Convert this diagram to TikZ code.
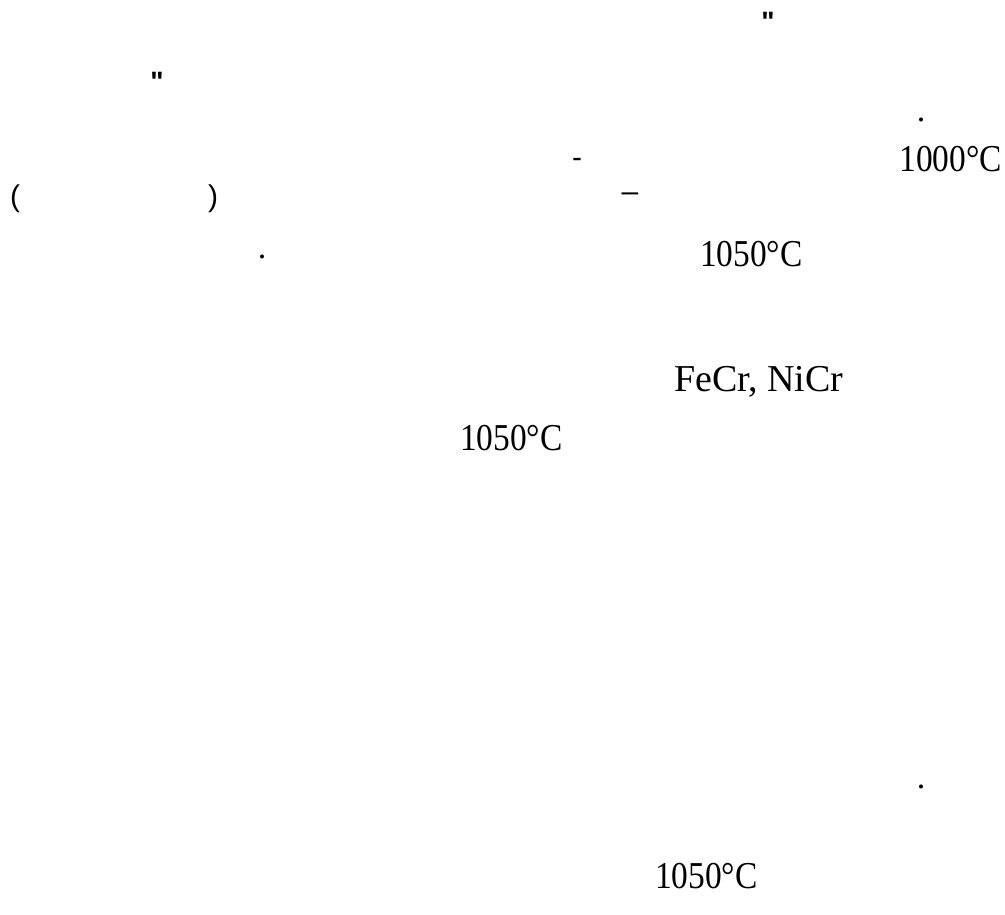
\documentclass[tikz,border=0pt]{standalone}
\usepackage{fontspec}
\setmainfont{Liberation Serif}
\newfontfamily\arialf{Liberation Sans}
\newcommand{\narrow}[1]{\scalebox{0.88}[1]{#1}}
\tikzset{
  txt/.style={inner sep=0pt, outer sep=0pt, font=\fontsize{38}{44}\selectfont},
  dotmark/.style={inner sep=0pt, outer sep=0pt, font=\fontsize{34}{40}\selectfont},
  punct/.style={inner sep=0pt, outer sep=0pt, font=\arialf\fontsize{30}{36}\selectfont},
  quotemark/.style={inner sep=0pt, outer sep=0pt, font=\arialf\bfseries\fontsize{28}{34}\selectfont},
}
\begin{document}
\begin{tikzpicture}[x=1pt,y=-1pt]
\useasboundingbox[fill=white] (0,0) rectangle (1005,914);
\node[quotemark] (q1) at (768,22) {"};
\node[quotemark] (q2) at (157,82) {"};
\node[dotmark] (d1) at (921,120) {.};
\node[punct] (h1) at (577,163) {-};
\node[txt, anchor=base east] (t1) at (1002,171) {\narrow{1000°C}};
\node[punct] (p1) at (15,199) {(};
\node[punct] (p2) at (213,199) {)};
\node[punct] (h2) at (630,197) {–};
\node[dotmark] (d2) at (262,257) {.};
\node[txt, anchor=base west] (t2) at (700,266) {\narrow{1050°C}};
\node[txt, anchor=base west] (t3) at (674,391) {FeCr, NiCr};
\node[txt, anchor=base west] (t4) at (460,450) {\narrow{1050°C}};
\node[dotmark] (d3) at (921,787) {.};
\node[txt, anchor=base west] (t5) at (655,888) {\narrow{1050°C}};
\end{tikzpicture}
\end{document}
